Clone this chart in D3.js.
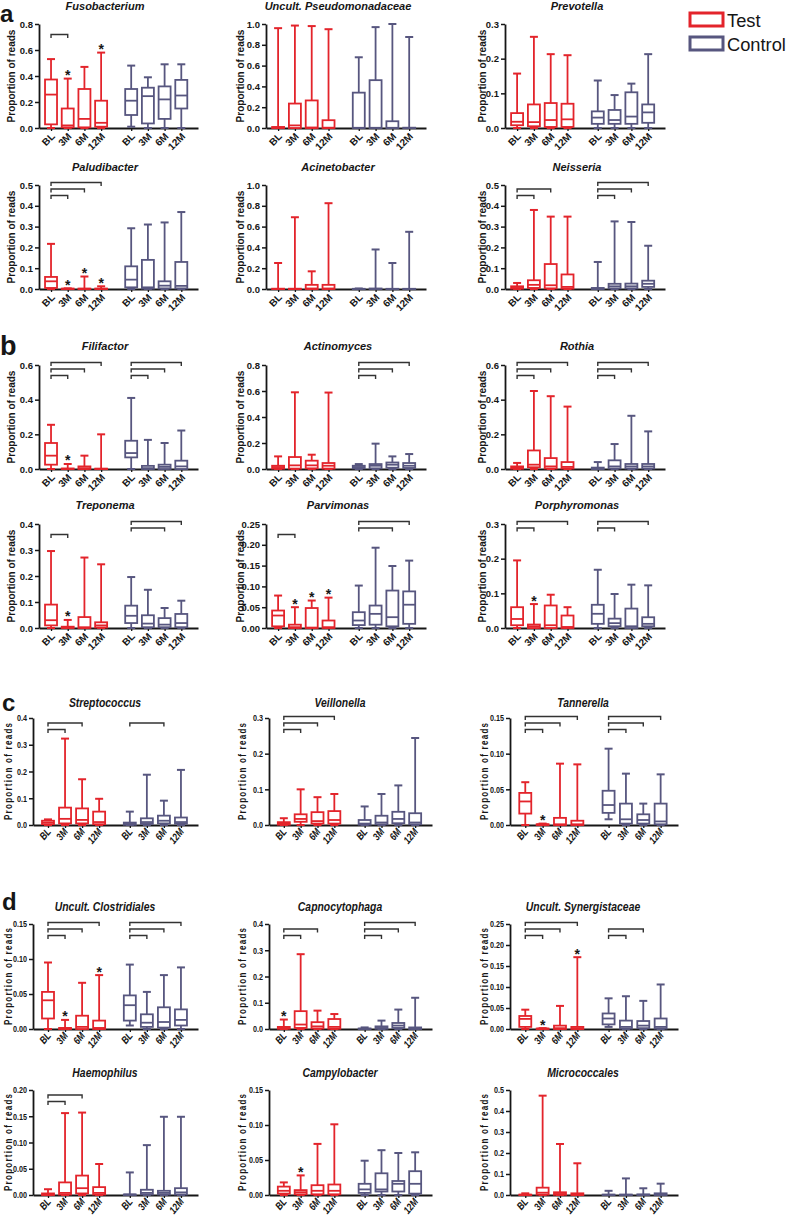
<!DOCTYPE html>
<html><head><meta charset="utf-8">
<script src="https://cdn.jsdelivr.net/npm/d3@7"></script>
<style>body{margin:0;background:#fff} svg{display:block}</style>
</head><body>
<svg id="c" width="787" height="1219"></svg>
<script>
const timepoints = ["BL","3M","6M","12M"];
const groups = ["Test","Control"];
const taxa = ["Fusobacterium","Uncult. Pseudomonadaceae","Prevotella",
  "Paludibacter","Acinetobacter","Neisseria",
  "Filifactor","Actinomyces","Rothia",
  "Treponema","Parvimonas","Porphyromonas",
  "Streptococcus","Veillonella","Tannerella",
  "Uncult. Clostridiales","Capnocytophaga","Uncult. Synergistaceae",
  "Haemophilus","Campylobacter","Micrococcales"];
const panelLetters = ["a","b","c","d"];
const axisMax =   [0.8,1.0,0.3, 0.5,1.0,0.5, 0.6,0.8,0.6, 0.4,0.25,0.3, 0.4,0.3,0.15, 0.15,0.4,0.25, 0.20,0.15,0.5];
const tickStep =  [0.2,0.2,0.1, 0.1,0.2,0.1, 0.2,0.2,0.2, 0.1,0.05,0.1, 0.1,0.1,0.05, 0.05,0.1,0.05, 0.05,0.05,0.1];
const tickDecimals=[1,1,1, 1,1,1, 1,1,1, 1,2,1, 1,1,2, 2,1,2, 2,2,1];

// [min, q1, median, q3, max]; Test BL,3M,6M,12M then Control BL,3M,6M,12M
const fusobacterium = [[0,0.028,0.257,0.373,0.53],[0,0.005,0.02,0.15,0.38],[0,0.005,0.07,0.30,0.47],[0,0.01,0.04,0.21,0.58],
  [0.01,0.10,0.21,0.30,0.48],[0,0.035,0.245,0.31,0.39],[0,0.07,0.22,0.32,0.49],[0,0.15,0.25,0.37,0.49]];
const pseudomonadaceae = [[0,0,0.002,0.01,0.96],[0,0,0.025,0.235,0.985],[0,0,0.005,0.265,0.98],[0,0,0.003,0.075,0.95],
  [0,0,0.002,0.34,0.68],[0,0,0.002,0.46,0.97],[0,0,0.002,0.065,1.0],[0,0,0.001,0.003,0.875]];
const prevotella = [[0,0.008,0.018,0.043,0.157],[0,0.005,0.017,0.068,0.263],[0,0.003,0.023,0.072,0.213],[0,0.003,0.025,0.07,0.21],
  [0,0.012,0.03,0.048,0.137],[0,0.012,0.023,0.052,0.095],[0,0.012,0.033,0.103,0.128],[0,0.015,0.045,0.068,0.213]];
const paludibacter = [[0,0.005,0.037,0.058,0.217],[0,0,0.001,0.002,0.003],[0,0,0.001,0.002,0.06],[0,0,0.001,0.002,0.013],
  [0,0.008,0.045,0.109,0.292],[0,0.002,0.008,0.14,0.31],[0,0.003,0.016,0.037,0.32],[0,0.003,0.015,0.13,0.37]];
const acinetobacter = [[0,0,0.001,0.003,0.25],[0,0,0.001,0.003,0.69],[0,0,0.005,0.04,0.17],[0,0,0.005,0.04,0.825],
  [0,0,0.001,0.002,0.005],[0,0,0.001,0.005,0.38],[0,0,0.001,0.002,0.25],[0,0,0.001,0.002,0.55]];
const neisseria = [[0,0.002,0.005,0.013,0.029],[0,0.005,0.02,0.042,0.38],[0,0.003,0.018,0.12,0.348],[0,0.002,0.01,0.07,0.348],
  [0,0,0.002,0.005,0.13],[0,0.003,0.013,0.025,0.325],[0,0.003,0.013,0.026,0.322],[0,0.01,0.025,0.04,0.208]];
const filifactor = [[0,0.025,0.077,0.15,0.255],[0,0,0.001,0.003,0.029],[0,0,0.005,0.015,0.077],[0,0,0.001,0.002,0.2],
  [0,0.067,0.092,0.163,0.41],[0,0,0.005,0.018,0.168],[0,0,0.012,0.025,0.15],[0,0,0.015,0.048,0.222]];
const actinomyces = [[0,0.003,0.015,0.025,0.097],[0,0.003,0.028,0.092,0.59],[0,0.005,0.028,0.064,0.11],[0,0.003,0.025,0.046,0.588],
  [0,0.005,0.015,0.025,0.038],[0,0.005,0.025,0.038,0.195],[0,0.01,0.033,0.05,0.097],[0,0.008,0.025,0.046,0.115]];
const rothia = [[0,0.002,0.008,0.015,0.035],[0,0.01,0.025,0.107,0.45],[0,0.003,0.015,0.063,0.42],[0,0.003,0.012,0.04,0.36],
  [0,0,0.002,0.008,0.04],[0,0.003,0.015,0.05,0.144],[0,0.003,0.015,0.029,0.307],[0,0.003,0.015,0.029,0.217]];
const treponema = [[0,0.01,0.03,0.09,0.296],[0,0,0.002,0.005,0.031],[0,0,0.003,0.042,0.271],[0,0.002,0.01,0.022,0.245],
  [0,0.019,0.047,0.086,0.196],[0,0.003,0.017,0.049,0.147],[0,0.003,0.013,0.038,0.077],[0,0.003,0.019,0.054,0.105]];
const parvimonas = [[0,0.004,0.03,0.042,0.078],[0,0,0.002,0.008,0.05],[0,0,0.001,0.048,0.066],[0,0,0.002,0.018,0.073],
  [0,0.007,0.018,0.038,0.102],[0,0.008,0.034,0.054,0.193],[0,0.004,0.026,0.09,0.149],[0,0.01,0.056,0.088,0.162]];
const porphyromonas = [[0,0.008,0.026,0.06,0.195],[0,0,0.005,0.01,0.069],[0,0,0.008,0.065,0.096],[0,0,0.003,0.036,0.06],
  [0,0.012,0.041,0.067,0.168],[0,0.005,0.014,0.027,0.098],[0,0,0.005,0.056,0.125],[0,0.005,0.012,0.031,0.123]];
const streptococcus = [[0,0.003,0.009,0.016,0.021],[0,0.006,0.023,0.065,0.323],[0,0.006,0.019,0.062,0.171],[0,0.003,0.011,0.05,0.098],
  [0,0.001,0.004,0.009,0.05],[0,0.004,0.011,0.025,0.188],[0,0.006,0.016,0.035,0.091],[0,0.005,0.011,0.028,0.206]];
const veillonella = [[0,0.001,0.004,0.008,0.019],[0,0.009,0.017,0.03,0.1],[0,0.004,0.011,0.036,0.078],[0,0.004,0.014,0.039,0.087],
  [0,0.001,0.004,0.014,0.052],[0,0.002,0.007,0.026,0.087],[0,0.005,0.017,0.037,0.111],[0,0.002,0.007,0.033,0.244]];
const tannerella = [[0,0.016,0.033,0.045,0.06],[0,0,0.001,0.001,0.002],[0,0,0.001,0.01,0.086],[0,0,0.001,0.006,0.085],
  [0.008,0.017,0.028,0.048,0.107],[0,0.002,0.008,0.03,0.072],[0,0.002,0.007,0.015,0.03],[0,0.001,0.005,0.03,0.071]];
const clostridiales = [[0,0.015,0.041,0.053,0.095],[0,0,0.001,0.0015,0.013],[0,0,0.003,0.019,0.066],[0,0,0.0015,0.012,0.077],
  [0.005,0.012,0.034,0.048,0.092],[0,0.003,0.009,0.021,0.053],[0,0.002,0.01,0.031,0.077],[0,0.005,0.013,0.028,0.088]];
const capnocytophaga = [[0,0.001,0.003,0.008,0.036],[0,0.004,0.017,0.068,0.285],[0,0.002,0.01,0.026,0.07],[0,0.001,0.008,0.038,0.057],
  [0,0,0.001,0.002,0.006],[0,0.001,0.004,0.01,0.032],[0,0.004,0.013,0.023,0.074],[0,0,0.003,0.006,0.119]];
const synergistaceae = [[0,0.005,0.024,0.031,0.046],[0,0,0.001,0.001,0.002],[0,0,0.002,0.008,0.055],[0,0,0.002,0.005,0.171],
  [0.005,0.011,0.025,0.037,0.073],[0,0.001,0.005,0.02,0.078],[0,0.002,0.008,0.019,0.067],[0,0.001,0.005,0.025,0.106]];
const haemophilus = [[0,0,0.001,0.003,0.011],[0,0.001,0.004,0.024,0.156],[0,0.003,0.013,0.037,0.157],[0,0.001,0.004,0.015,0.059],
  [0,0,0.001,0.001,0.043],[0,0.001,0.004,0.01,0.095],[0,0.001,0.004,0.008,0.149],[0,0.001,0.005,0.013,0.149]];
const campylobacter = [[0,0.002,0.006,0.012,0.018],[0,0.001,0.004,0.007,0.028],[0,0.001,0.006,0.014,0.073],[0,0.001,0.006,0.015,0.101],
  [0,0.003,0.008,0.016,0.049],[0,0.005,0.008,0.031,0.064],[0,0.005,0.016,0.02,0.06],[0,0.002,0.016,0.034,0.061]];
const micrococcales = [[0,0,0.001,0.002,0.008],[0,0.002,0.011,0.035,0.473],[0,0.001,0.005,0.013,0.243],[0,0,0.002,0.008,0.151],
  [0,0,0.001,0.002,0.02],[0,0,0.001,0.002,0.079],[0,0,0.001,0.003,0.032],[0,0,0.003,0.008,0.054]];

const boxData = [fusobacterium,pseudomonadaceae,prevotella,paludibacter,acinetobacter,neisseria,
  filifactor,actinomyces,rothia,treponema,parvimonas,porphyromonas,
  streptococcus,veillonella,tannerella,clostridiales,capnocytophaga,synergistaceae,
  haemophilus,campylobacter,micrococcales];

// significant vs control (Test group)
const stars = [["Fusobacterium","3M"],["Fusobacterium","12M"],
  ["Paludibacter","3M"],["Paludibacter","6M"],["Paludibacter","12M"],
  ["Filifactor","3M"],["Treponema","3M"],
  ["Parvimonas","3M"],["Parvimonas","6M"],["Parvimonas","12M"],
  ["Porphyromonas","3M"],["Tannerella","3M"],
  ["Uncult. Clostridiales","3M"],["Uncult. Clostridiales","12M"],
  ["Capnocytophaga","BL"],
  ["Uncult. Synergistaceae","3M"],["Uncult. Synergistaceae","12M"],
  ["Campylobacter","3M"]];

// BL vs time-point brackets: [taxon, group, time, stack level]
const brackets = [
  ["Fusobacterium","Test","3M",0],
  ["Paludibacter","Test","3M",0],["Paludibacter","Test","6M",1],["Paludibacter","Test","12M",2],
  ["Neisseria","Test","3M",0],["Neisseria","Test","6M",1],
  ["Neisseria","Control","3M",0],["Neisseria","Control","6M",1],["Neisseria","Control","12M",2],
  ["Filifactor","Test","3M",0],["Filifactor","Test","6M",1],["Filifactor","Test","12M",2],
  ["Filifactor","Control","3M",0],["Filifactor","Control","6M",1],["Filifactor","Control","12M",2],
  ["Actinomyces","Control","3M",0],["Actinomyces","Control","6M",1],["Actinomyces","Control","12M",2],
  ["Rothia","Test","3M",0],["Rothia","Test","6M",1],["Rothia","Test","12M",2],
  ["Rothia","Control","3M",0],["Rothia","Control","6M",1],["Rothia","Control","12M",2],
  ["Treponema","Test","3M",0],["Treponema","Control","6M",1],["Treponema","Control","12M",2],
  ["Parvimonas","Test","3M",0],["Parvimonas","Control","6M",1],["Parvimonas","Control","12M",2],
  ["Porphyromonas","Test","3M",1],["Porphyromonas","Test","12M",2],
  ["Porphyromonas","Control","3M",1],["Porphyromonas","Control","12M",2],
  ["Streptococcus","Test","3M",0],["Streptococcus","Test","6M",1],["Streptococcus","Control","6M",1],
  ["Veillonella","Test","3M",0],["Veillonella","Test","6M",1],["Veillonella","Test","12M",2],
  ["Tannerella","Test","3M",0],["Tannerella","Test","6M",1],["Tannerella","Test","12M",2],
  ["Tannerella","Control","3M",0],["Tannerella","Control","6M",1],["Tannerella","Control","12M",2],
  ["Uncult. Clostridiales","Test","3M",0],["Uncult. Clostridiales","Test","6M",1],["Uncult. Clostridiales","Test","12M",2],
  ["Uncult. Clostridiales","Control","3M",0],["Uncult. Clostridiales","Control","6M",1],["Uncult. Clostridiales","Control","12M",2],
  ["Capnocytophaga","Test","3M",0],["Capnocytophaga","Test","6M",1],
  ["Capnocytophaga","Control","3M",0],["Capnocytophaga","Control","6M",1],["Capnocytophaga","Control","12M",2],
  ["Uncult. Synergistaceae","Test","3M",0],["Uncult. Synergistaceae","Test","6M",1],["Uncult. Synergistaceae","Test","12M",2],
  ["Uncult. Synergistaceae","Control","3M",0],["Uncult. Synergistaceae","Control","6M",1],
  ["Haemophilus","Test","3M",0],["Haemophilus","Test","6M",1]
];

// ---------- layout ----------
const RED = "#e3242b", PURPLE = "#57567f", INK = "#161616";
const FONT = "'Liberation Sans', Arial, sans-serif";
const colors = [RED, PURPLE];
const rows = [
  {top:24, base:128, title:9.5, style:"ab"},
  {top:185, base:289, title:171, style:"ab"},
  {top:365, base:469, title:350, style:"ab"},
  {top:524, base:628, title:509, style:"ab"},
  {top:718, base:825, title:707, style:"cd"},
  {top:924, base:1029, title:911, style:"cd"},
  {top:1090, base:1195, title:1077, style:"cd"}
];
const styles = {
  ab: {axisX:[39,266,505], pad:0.72, end:[198,426,665], titleX:[105,338,577], ylabX:[11,240,482],
       sx:1, lvl:[10.5,4,-2.5], italicTicks:false, titleSize:11, tickSize:9.5, xlabSize:10,
       xlabT:"translate(4,9) rotate(-45)"},
  cd: {axisX:[33,269,510], pad:0.88, end:[198,432,678], titleX:[105,340,583], ylabX:[8,242,484],
       sx:0.8, lvl:[11.5,5,-1.5], italicTicks:true, titleSize:13, tickSize:9, xlabSize:10.5,
       xlabT:"translate(3,7) rotate(-50)"}
};
const pos = k => k < 4 ? k : k + 0.8;
const sc = st => st.sx === 1 ? "" : ` scale(${st.sx},1)`;

const svg = d3.select("#c").attr("font-family", FONT);

taxa.forEach((name, i) => {
  const r = rows[Math.floor(i/3)], c = i % 3, st = styles[r.style];
  const ax = st.axisX[c];
  const x = d3.scaleLinear().domain([-st.pad, 8.8]).range([ax, st.end[c]]);
  const y = d3.scaleLinear().domain([0, axisMax[i]]).range([r.base, r.top]);
  const g = svg.append("g");

  // title
  g.append("text").attr("transform", `translate(${st.titleX[c]},${r.title})${sc(st)}`)
    .attr("text-anchor","middle").attr("font-weight","bold").attr("font-style","italic")
    .attr("font-size", st.titleSize).attr("fill", INK).text(name);

  // y label
  const yl = g.append("text")
    .attr("transform", `translate(${st.ylabX[c]},${(r.top+r.base)/2}) rotate(-90)${sc(st)}`)
    .attr("text-anchor","middle").attr("dy","0.35em").attr("font-weight","bold")
    .attr("font-size", 10).attr("fill", INK).text("Proportion of reads");
  if (r.style === "cd") yl.attr("textLength", 97 / st.sx).attr("lengthAdjust","spacing");

  // y axis
  const ticks = d3.range(0, axisMax[i] + tickStep[i]/2, tickStep[i]);
  const yAx = g.append("g").attr("transform", `translate(${ax},0)`)
    .call(d3.axisLeft(y).tickValues(ticks).tickFormat(d3.format(`.${tickDecimals[i]}f`))
      .tickSize(4).tickSizeOuter(0).tickPadding(2));
  yAx.select(".domain").attr("stroke", INK).attr("stroke-width", 1.8);
  yAx.selectAll(".tick line").attr("stroke", INK).attr("stroke-width", 1.5);
  yAx.selectAll(".tick text").attr("font-family", FONT)
    .attr("x", -6 / st.sx).attr("transform", sc(st).trim() || null)
    .attr("font-weight","bold").attr("font-size", st.tickSize).attr("fill", INK);

  // x axis
  const xAx = g.append("g").attr("transform", `translate(0,${r.base})`)
    .call(d3.axisBottom(x).tickValues(d3.range(8).map(pos))
      .tickFormat((d, k) => timepoints[k % 4]).tickSize(3).tickSizeOuter(0));
  xAx.select(".domain").attr("stroke", INK).attr("stroke-width", 1.8);
  xAx.selectAll(".tick line").attr("stroke", INK).attr("stroke-width", 1.3);
  xAx.selectAll(".tick text")
    .attr("x", 0).attr("y", 0).attr("dy", 0)
    .attr("transform", st.xlabT + sc(st))
    .attr("text-anchor","end").attr("font-family", FONT)
    .attr("font-weight","bold").attr("font-style", st.italicTicks ? "italic" : "normal")
    .attr("font-size", st.xlabSize).attr("fill", INK);

  // boxes
  boxData[i].forEach((b, k) => {
    const [mn, q1, md, q3, mx] = b;
    const cx = x(pos(k)), col = colors[k < 4 ? 0 : 1];
    const bw = 12, cw = 8;
    const bg = g.append("g").attr("stroke", col).attr("fill","none").attr("stroke-width", 1.8);
    bg.append("line").attr("x1", cx).attr("x2", cx).attr("y1", y(mn)).attr("y2", y(mx));
    bg.append("line").attr("x1", cx - cw/2).attr("x2", cx + cw/2).attr("y1", y(mx)).attr("y2", y(mx)).attr("stroke-width", 2);
    bg.append("line").attr("x1", cx - cw/2).attr("x2", cx + cw/2).attr("y1", y(mn)).attr("y2", y(mn)).attr("stroke-width", 2);
    bg.append("rect").attr("x", cx - bw/2).attr("width", bw)
      .attr("y", y(q3)).attr("height", Math.max(y(q1) - y(q3), 0.4)).attr("fill", "#fff");
    bg.append("line").attr("x1", cx - bw/2).attr("x2", cx + bw/2).attr("y1", y(md)).attr("y2", y(md));
  });

  // stars
  stars.filter(s => s[0] === name).forEach(s => {
    const k = timepoints.indexOf(s[1]);
    g.append("text").attr("x", x(pos(k))).attr("y", y(boxData[i][k][4]) + 1.5)
      .attr("text-anchor","middle").attr("font-weight","bold").attr("font-size", 14)
      .attr("fill", INK).text("*");
  });

  // brackets
  brackets.filter(b => b[0] === name).forEach(b => {
    const off = groups.indexOf(b[1]) * 4;
    const x1 = x(pos(off)), x2 = x(pos(off + timepoints.indexOf(b[2])));
    const yb = r.top + st.lvl[b[3]];
    const p = d3.path();
    p.moveTo(x1, yb + 3.5); p.lineTo(x1, yb); p.lineTo(x2, yb); p.lineTo(x2, yb + 3.5);
    g.append("path").attr("d", p.toString()).attr("fill","none")
      .attr("stroke", "#333").attr("stroke-width", 1.4);
  });
});

// panel letters
const letterPos = [[0,22,24],[0,355,27],[2,711,24],[2,910,24]];
panelLetters.forEach((L, j) => {
  const [lx, ly, fs] = letterPos[j];
  svg.append("text").attr("x", lx).attr("y", ly).attr("font-weight","bold")
    .attr("font-size", fs).attr("fill", INK).text(L);
});

// legend
groups.forEach((gname, j) => {
  svg.append("rect").attr("x", 690).attr("y", 13 + j*24).attr("width", 33).attr("height", 13)
    .attr("fill","none").attr("stroke", colors[j]).attr("stroke-width", 3);
  svg.append("text").attr("x", 727).attr("y", 27 + j*24)
    .attr("font-size", 18.3).attr("fill", INK).text(gname);
});
</script>
</body></html>
